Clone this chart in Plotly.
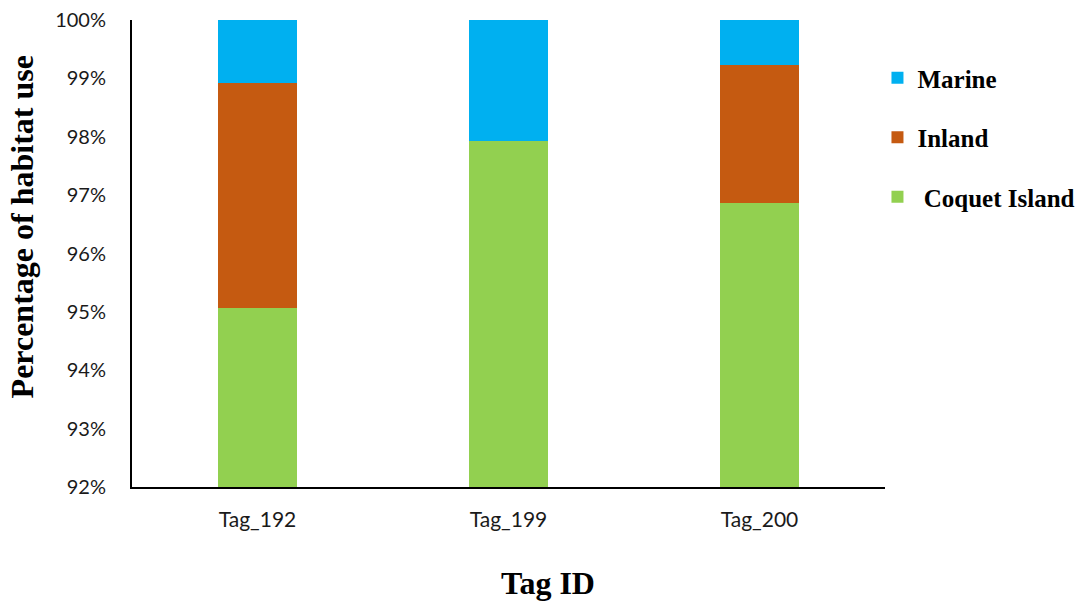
import plotly.graph_objects as go

tags = ["Tag_192", "Tag_199", "Tag_200"]
coquet_island = [95.06, 97.92, 96.86]
inland = [3.86, 0.0, 2.37]
marine = [1.08, 2.08, 0.77]

# (name, values, colour, legend rank) -- stacked bottom to top, listed top to bottom
series = [
    ("Coquet Island", coquet_island, "#92D050", 3),
    ("Inland", inland, "#C55A11", 2),
    ("Marine", marine, "#00B0F0", 1),
]

fig = go.Figure()
for name, vals, color, rank in series:
    label = "\u00a0" + name if name == "Coquet Island" else name
    fig.add_trace(go.Bar(
        x=tags, y=vals, name=label, legendgroup=name, legendrank=rank,
        marker=dict(color=color, line=dict(width=0)),
        width=0.315,
    ))

W, H = 1091, 602
L, R, T, B = 132, 885, 19.5, 486.7

fig.update_layout(
    width=W, height=H,
    barmode="stack",
    plot_bgcolor="white", paper_bgcolor="white",
    margin=dict(l=L, r=W - R, t=T, b=H - B, pad=0, autoexpand=False),
    font=dict(family="Lato", size=20, color="#1a1a1a"),
    legend=dict(
        x=0.99, y=0.925, xanchor="left", yanchor="top",
        traceorder="grouped", tracegroupgap=24,
        font=dict(family="Liberation Serif", size=25, color="black", weight="bold"),
        itemwidth=30,
    ),
    xaxis=dict(
        showline=True, linecolor="black", linewidth=2,
        ticks="", showgrid=False, ticklabelstandoff=13,
        tickfont=dict(family="Lato", size=21, color="#1a1a1a"),
    ),
    yaxis=dict(
        range=[92, 100], dtick=1, ticksuffix="%",
        showline=True, linecolor="black", linewidth=2,
        ticks="", showgrid=False, zeroline=False, ticklabelstandoff=20,
        tickfont=dict(family="Lato", size=20, color="#1a1a1a"),
    ),
    annotations=[
        dict(text="Percentage of habitat use", xref="paper", yref="paper",
             x=-L / (R - L) + 22 / (R - L), y=(H - 227 - (H - B)) / (B - T),
             xanchor="center", yanchor="middle", textangle=-90, showarrow=False,
             font=dict(family="Liberation Serif", size=32, color="black", weight="bold")),
        dict(text="Tag ID", xref="paper", yref="paper",
             x=(548 - L) / (R - L), y=-(583 - B) / (B - T),
             xanchor="center", yanchor="middle", showarrow=False,
             font=dict(family="Liberation Serif", size=32, color="black", weight="bold")),
    ],
)

fig.write_html("out.html")
